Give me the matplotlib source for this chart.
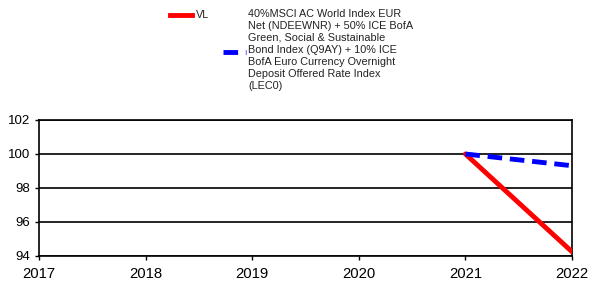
import matplotlib
matplotlib.use("Agg")
import matplotlib.pyplot as plt
from matplotlib.lines import Line2D

plt.rcParams['font.family'] = ['Liberation Sans', 'DejaVu Sans']

years = [2017, 2018, 2019, 2020, 2021, 2022]
vl_years = [2021, 2022]
vl_values = [100.0, 94.25]
bench_years = [2021, 2022]
bench_values = [100.0, 99.31]
yticks = [94, 96, 98, 100, 102]
vl_label = "VL"
bench_label = ("40%MSCI AC World Index EUR\nNet (NDEEWNR) + 50% ICE BofA\n"
               "Green, Social & Sustainable\nBond Index (Q9AY) + 10% ICE\n"
               "BofA Euro Currency Overnight\nDeposit Offered Rate Index\n(LEC0)")

W, H = 590, 282
fig = plt.figure(figsize=(W/100, H/100), dpi=100)
ax = fig.add_axes([39/W, 1-256/H, (572-39)/W, (256-120)/H])

ax.plot(vl_years, vl_values, color='#ff0000', lw=3.5, solid_capstyle='round', zorder=3)
ax.plot(bench_years, bench_values, color='#0000ff', lw=3.5, dashes=(3, 1.6), zorder=3)

ax.set_xlim(2017, 2022)
ax.set_ylim(94, 102)
ax.set_yticks(yticks)
ax.set_xticks(years)
ax.yaxis.grid(True, color='black', lw=1.2)
for s in ax.spines.values():
    s.set_color('black')
    s.set_linewidth(1.2)
ax.tick_params(axis='both', colors='black', length=3, width=1, direction='out')
ax.tick_params(axis='y', labelsize=9.5)
ax.tick_params(axis='x', labelsize=10.7, pad=5)

# legend
fig.add_artist(Line2D([170/W, 192/W], [1-15/H, 1-15/H], color='#ff0000', lw=3.5))
fig.text(196/W, 1-15/H, vl_label, fontsize=7.85, va='center', ha='left', color='#222222')
fig.add_artist(Line2D([223/W, 246/W], [1-52/H, 1-52/H], color='#0000ff', lw=3.5, dashes=(3, 1.6)))
fig.text(248/W, 1-9/H, bench_label, fontsize=7.85, va='top', ha='left', linespacing=1.24,
         color='#222222')

fig.savefig("out.png", dpi=100)
